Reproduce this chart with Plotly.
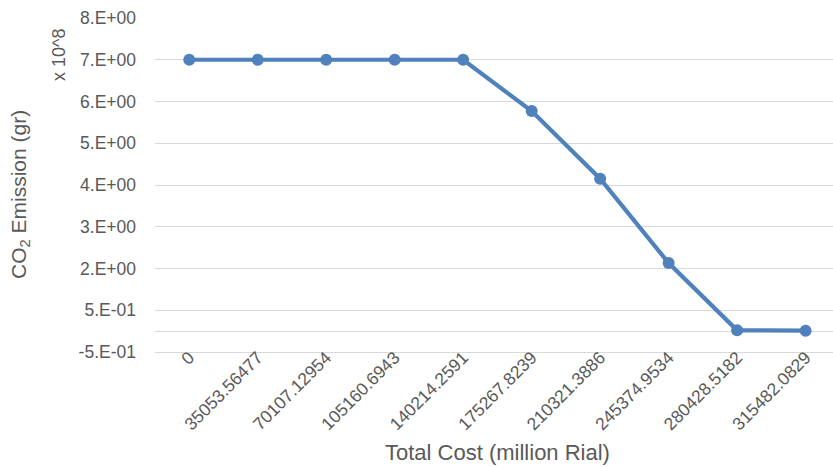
import plotly.graph_objects as go

# Total cost scenarios (million Rial), used as categories
total_cost = ["0", "35053.56477", "70107.12954", "105160.6943", "140214.2591",
              "175267.8239", "210321.3886", "245374.9534", "280428.5182", "315482.0829"]

# CO2 emission on the axis scale (x 10^8)
co2_emission = [7.0, 7.0, 7.0, 7.0, 7.0, 5.77, 4.15, 2.13, 0.52, 0.51]

# Axis tick positions and their printed labels
y_tick_vals = [0, 0.5, 1, 2, 3, 4, 5, 6, 7, 8]
y_tick_text = ["-5.E-01", "", "5.E-01", "2.E+00", "3.E+00", "4.E+00",
               "5.E+00", "6.E+00", "7.E+00", "8.E+00"]

LINE = "#4F81BD"
TEXT = "#595959"
GRID = "#D9D9D9"
FONT = "Liberation Sans, Arial, sans-serif"

# plot area in pixels
L, R, T, B = 155, 0, 18, 115
PW, PH = 833 - L - R, 467 - T - B


def px_x(x):
    return (x - L) / PW


def px_y(y):
    return (467 - B - y) / PH


fig = go.Figure(
    go.Scatter(
        x=total_cost,
        y=co2_emission,
        mode="lines+markers",
        line=dict(color=LINE, width=4.2),
        marker=dict(color=LINE, size=12),
        showlegend=False,
        cliponaxis=False,
    )
)

fig.update_layout(
    width=833,
    height=467,
    margin=dict(l=L, r=R, t=T, b=B),
    paper_bgcolor="white",
    plot_bgcolor="white",
    font=dict(family=FONT, color=TEXT, size=17),
    xaxis=dict(
        type="category",
        range=[-0.5, 9.4],
        tickangle=-45,
        showgrid=False,
        showline=False,
        zeroline=False,
        ticks="",
        ticklabelstandoff=-9,
        tickfont=dict(size=17.5, color=TEXT),
    ),
    yaxis=dict(
        range=[0, 8],
        tickvals=y_tick_vals,
        ticktext=y_tick_text,
        showgrid=True,
        gridcolor=GRID,
        gridwidth=1.3,
        zeroline=True,
        zerolinecolor=GRID,
        zerolinewidth=1.3,
        showline=False,
        ticks="",
        ticklabelstandoff=18,
        tickfont=dict(size=17.5, color=TEXT),
    ),
    annotations=[
        dict(
            text="CO<sub>2</sub> Emission (gr)",
            xref="paper", yref="paper",
            x=px_x(20), y=px_y(195),
            xanchor="center", yanchor="middle",
            textangle=-90, showarrow=False,
            font=dict(size=21, color=TEXT),
        ),
        dict(
            text="x 10^8",
            xref="paper", yref="paper",
            x=px_x(59), y=px_y(55),
            xanchor="center", yanchor="middle",
            textangle=-90, showarrow=False,
            font=dict(size=18, color=TEXT),
        ),
        dict(
            text="Total Cost (million Rial)",
            xref="paper", yref="paper",
            x=px_x(497), y=px_y(453),
            xanchor="center", yanchor="middle",
            showarrow=False,
            font=dict(size=22, color=TEXT),
        ),
    ],
)

fig.write_html("out.html")
